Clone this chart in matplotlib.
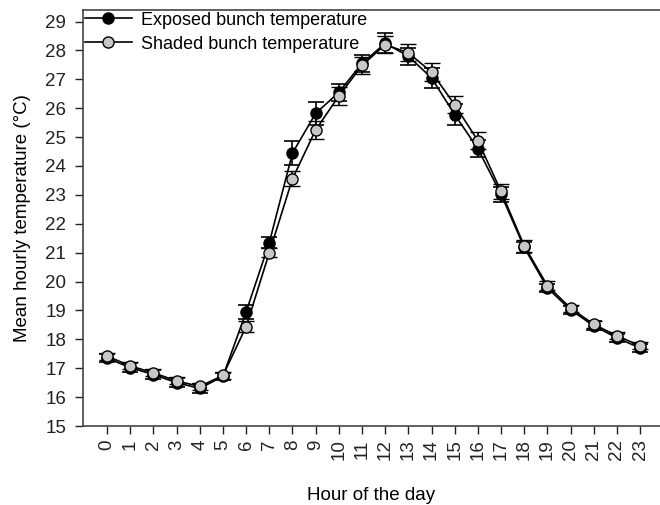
import numpy as np
import matplotlib
matplotlib.use("Agg")
import matplotlib.pyplot as plt

plt.rcParams['font.family'] = ['Liberation Sans', 'DejaVu Sans']

hours = list(range(24))
exposed = [17.35, 17.02, 16.78, 16.5, 16.3, 16.72, 18.95, 21.35, 24.45, 25.82, 26.55, 27.55,
           28.25, 27.8, 27.05, 25.78, 24.6, 23.02, 21.18, 19.78, 19.02, 18.47, 18.05, 17.7]
exposed_err = [0.15, 0.15, 0.15, 0.15, 0.15, 0.12, 0.25, 0.2, 0.4, 0.4, 0.3, 0.3,
               0.35, 0.3, 0.35, 0.35, 0.3, 0.25, 0.2, 0.15, 0.15, 0.15, 0.15, 0.15]
shaded = [17.42, 17.08, 16.84, 16.56, 16.37, 16.75, 18.44, 21.0, 23.56, 25.25, 26.42, 27.48,
          28.2, 27.92, 27.25, 26.12, 24.88, 23.12, 21.24, 19.86, 19.08, 18.52, 18.12, 17.78]
shaded_err = [0.12, 0.12, 0.12, 0.12, 0.12, 0.12, 0.2, 0.15, 0.25, 0.3, 0.3, 0.3,
              0.3, 0.3, 0.3, 0.3, 0.3, 0.25, 0.2, 0.15, 0.12, 0.12, 0.12, 0.12]

fig = plt.figure(figsize=(6.6, 5.05), dpi=100)
ax = fig.add_axes([83 / 660, 1 - 426 / 505, 1 - 83 / 660, 416 / 505])

ax.errorbar(hours, exposed, yerr=exposed_err, color='black', lw=1.2, marker='o', ms=8,
            mfc='black', mec='black', capsize=5.5, capthick=1.2, elinewidth=1.2,
            label='Exposed bunch temperature', zorder=3)
ax.errorbar(hours, shaded, yerr=shaded_err, color='black', lw=1.2, marker='o', ms=8,
            mfc='#c8c8c8', mec='black', mew=1.0, capsize=5.5, capthick=1.2, elinewidth=1.2,
            label='Shaded bunch temperature', zorder=4)

ax.set_xlim(-1.04, 23.86)
ax.set_ylim(15, 29.4)
ax.set_xticks(hours)
ax.set_xticklabels([str(h) for h in hours], rotation=90)
ax.set_yticks(range(15, 30))
ax.tick_params(direction='out', length=6, width=1, labelsize=13.5, colors='#222222')
ax.tick_params(axis='y', pad=6)
for side in ['left', 'bottom', 'top']:
    ax.spines[side].set_color('#444444')
    ax.spines[side].set_linewidth(1.2)
ax.spines['right'].set_visible(False)

ax.set_xlabel('Hour of the day', fontsize=13.5, labelpad=19)
ax.set_ylabel('Mean hourly temperature (°C)', fontsize=13.5, labelpad=10)

handles, labels = ax.get_legend_handles_labels()
handles = [h[0] for h in handles]
ax.legend(handles, labels, loc='upper left', frameon=False, fontsize=13,
          handlelength=2.6, borderaxespad=0.0, borderpad=0.1, labelspacing=0.38,
          handletextpad=0.5)

fig.savefig('out.png', dpi=100)
